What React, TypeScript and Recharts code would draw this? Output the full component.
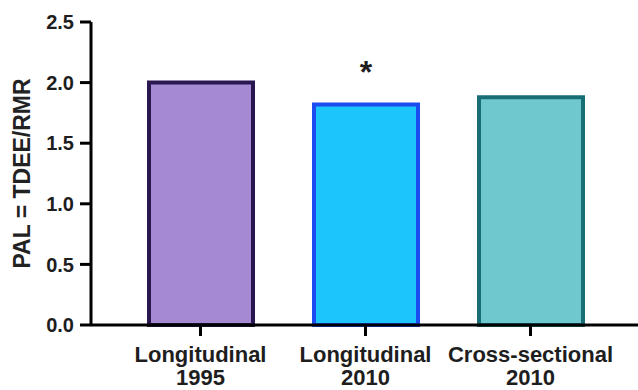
import { BarChart, Bar, XAxis, YAxis, Cell, LabelList } from 'recharts';

const groups = ['Longitudinal', 'Longitudinal', 'Cross-sectional'];
const years = ['1995', '2010', '2010'];
const pal = [2.0, 1.82, 1.88];
const marks = ['', '*', ''];
const yTicks = [0, 0.5, 1.0, 1.5, 2.0, 2.5];

const fills = ['#a58ad2', '#1cc5fc', '#70c8cf'];
const strokes = ['#2a1650', '#1a4cf0', '#196d75'];

const data = groups.map((g, i) => ({
    name: `${g} ${years[i]}`,
    pal: pal[i],
    mark: marks[i],
}));

const FONT = '"Liberation Sans", Arial, sans-serif';

function CategoryTick(props: any) {
    const { x, index } = props;
    return (
        <text
            x={x}
            y={362}
            textAnchor="middle"
            fontFamily={FONT}
            fontWeight="bold"
            fontSize={22}
            fill="#1e1e1e"
        >
            <tspan x={x}>{groups[index]}</tspan>
            <tspan x={x} y={385}>{years[index]}</tspan>
        </text>
    );
}

export default function App() {
    return (
        <div style={{ position: 'absolute', left: 0, top: 0 }}>
            <BarChart
                width={638}
                height={390}
                data={data}
                margin={{ top: 22, right: 0, bottom: 0, left: 0 }}
                barCategoryGap={0}
            >
                <XAxis
                    dataKey="name"
                    height={65}
                    padding={{ left: 27, right: 25 }}
                    axisLine={{ stroke: '#000', strokeWidth: 3 }}
                    tickLine={{ stroke: '#000', strokeWidth: 3 }}
                    tickSize={11}
                    tick={<CategoryTick />}
                    interval={0}
                />
                <YAxis
                    width={91}
                    domain={[0, 2.5]}
                    ticks={yTicks}
                    tickFormatter={(v: number) => v.toFixed(1)}
                    axisLine={{ stroke: '#000', strokeWidth: 3 }}
                    tickLine={{ stroke: '#000', strokeWidth: 3 }}
                    tickSize={11}
                    tickMargin={6}
                    tick={{ fontFamily: FONT, fontWeight: 'bold', fontSize: 20, fill: '#1e1e1e' }}
                    label={{
                        value: 'PAL = TDEE/RMR',
                        angle: -90,
                        position: 'insideLeft',
                        offset: 22,
                        style: {
                            textAnchor: 'middle',
                            fontFamily: FONT,
                            fontWeight: 'bold',
                            fontSize: 23,
                            fill: '#222',
                        },
                    }}
                />
                <Bar dataKey="pal" barSize={104} strokeWidth={4} isAnimationActive={false}>
                    {data.map((d, i) => (
                        <Cell key={d.name + i} fill={fills[i]} stroke={strokes[i]} />
                    ))}
                    <LabelList
                        dataKey="mark"
                        position="top"
                        offset={21}
                        style={{ fontFamily: FONT, fontWeight: 'bold', fontSize: 32, fill: '#1e1e1e' }}
                    />
                </Bar>
            </BarChart>
        </div>
    );
}
